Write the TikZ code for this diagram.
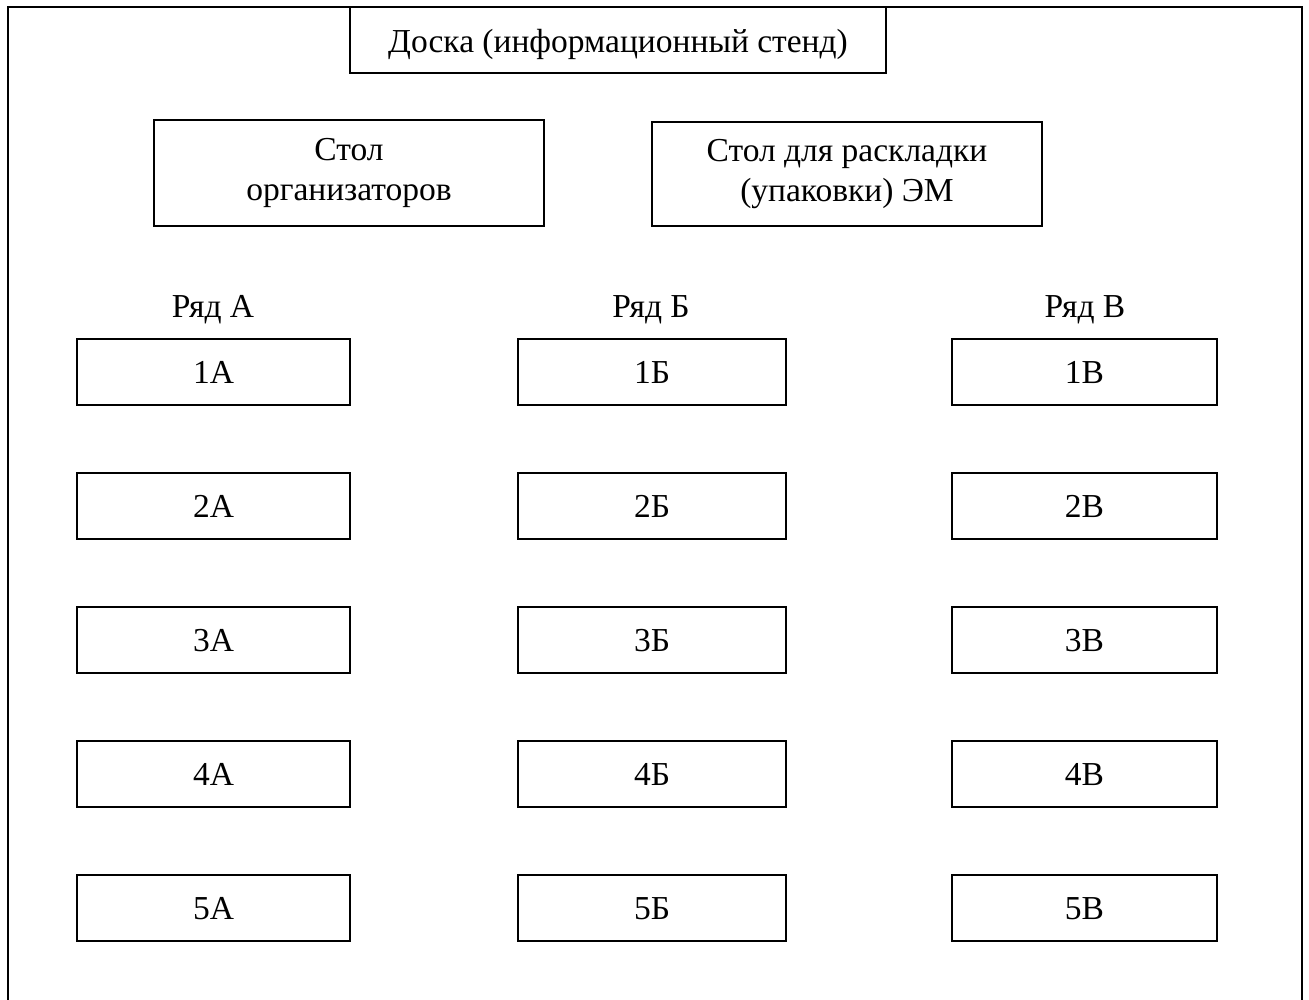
\documentclass[tikz,border=0pt]{standalone}
\usepackage{fontspec}
\setmainfont{Liberation Serif}
\begin{document}
\begin{tikzpicture}[x=1pt,y=-1pt,
  every node/.style={font=\fontsize{33.5}{40}\selectfont},
  box/.style={draw, line width=2pt, inner sep=0pt, align=center},
  seat/.style={box, minimum width=273pt, minimum height=66pt, text height=24pt, text depth=2pt},
  seatmid/.style={seat, minimum width=268pt},
  seatright/.style={seat, minimum width=265pt},
  rowlabel/.style={inner sep=0pt, anchor=base}]
\useasboundingbox (0,0) rectangle (1309,1000);
\clip (0,0) rectangle (1309,1000);
\coordinate (fbl) at (8,1005);
\coordinate (ftl) at (8,7);
\coordinate (ftr) at (1302,7);
\coordinate (fbr) at (1302,1005);
\draw[line width=2pt] (fbl) -- (ftl) -- (ftr) -- (fbr);
\node[box, minimum width=536pt, minimum height=66pt, text height=28pt, text depth=2pt] (board) at (618,40) {Доска (информационный стенд)};
\node[box, minimum width=390pt, minimum height=106pt] (org) at (349,173) {Стол\\организаторов};
\node[box, minimum width=390pt, minimum height=104pt] (pack) at (847,174) {Стол для раскладки\\(упаковки) ЭМ};
\node[rowlabel] (ra) at (213,317) {Ряд А};
\node[rowlabel] (rb) at (651,317) {Ряд Б};
\node[rowlabel] (rv) at (1085,317) {Ряд В};
\foreach \i/\y in {1/372,2/506,3/640,4/774,5/908}{
  \node[seat] (a\i) at (213.5,\y) {\i А};
  \node[seatmid] (b\i) at (652,\y) {\i Б};
  \node[seatright] (v\i) at (1084.5,\y) {\i В};
}
\end{tikzpicture}
\end{document}
